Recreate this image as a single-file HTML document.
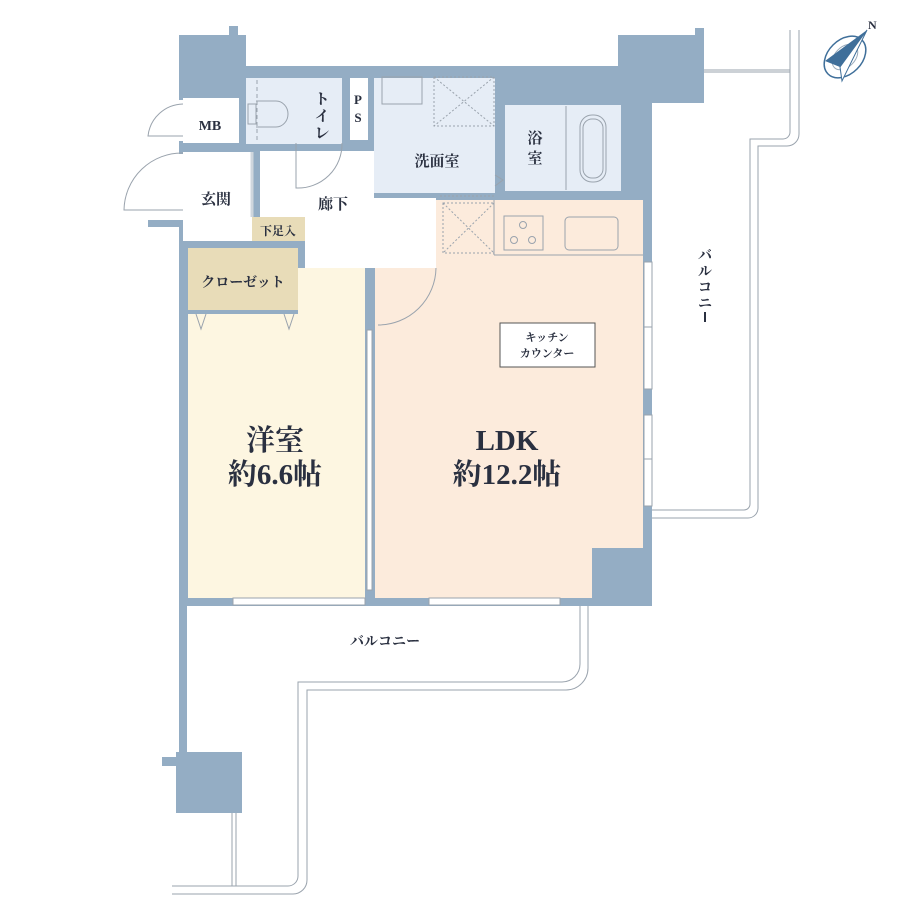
<!DOCTYPE html>
<html><head><meta charset="utf-8"><style>
html,body{margin:0;padding:0;background:#fff;}
svg{display:block;}
text{font-family:"Liberation Serif","Noto Serif CJK JP","Noto Serif CJK SC",serif;fill:#2a3040;font-weight:bold;}
</style></head><body>
<svg width="920" height="920" viewBox="0 0 920 920" xmlns="http://www.w3.org/2000/svg">
<g fill="#94adc4">
<rect x="179" y="35" width="67" height="40"/>
<rect x="229" y="26" width="9" height="12"/>
<rect x="179" y="66" width="470" height="12"/>
<rect x="618" y="35" width="86" height="68"/>
<rect x="695" y="28" width="9" height="10"/>
<rect x="179" y="66" width="473" height="540"/>
<rect x="592" y="548" width="60" height="58"/>
<rect x="179" y="600" width="8" height="155"/>
<rect x="176" y="752" width="66" height="61"/>
<rect x="162" y="757" width="16" height="9"/>
<rect x="148" y="220" width="36" height="7"/>
</g>
<rect x="179" y="100" width="4" height="41" fill="#fff"/>
<rect x="179" y="154" width="4" height="66" fill="#fff"/>
<g>
<rect x="246" y="78" width="96" height="66" fill="#e6edf6"/>
<rect x="350" y="78" width="18" height="62" fill="#fff"/>
<rect x="374" y="78" width="121" height="115" fill="#e6edf6"/>
<rect x="505" y="105" width="116" height="86" fill="#e6edf6"/>
<rect x="183" y="98" width="56" height="45" fill="#fff"/>
<rect x="183" y="152" width="69" height="89" fill="#fff"/>
<polygon points="260,151 374,151 374,198 436,198 436,268 305,268 305,241 260,241" fill="#fff"/>
<rect x="252" y="217" width="53" height="24" fill="#e8dcb8"/>
<rect x="188" y="248" width="110" height="62" fill="#e8dcb8"/>
<polygon points="188,314 298,314 298,268 365,268 365,598 188,598" fill="#fdf6e1"/>
<polygon points="436,200 643,200 643,548 592,548 592,598 375,598 375,268 436,268" fill="#fcebdc"/>
</g>
<g fill="none" stroke="#9aa3ad" stroke-width="1">
<line x1="252" y1="152" x2="252" y2="217" stroke="#cfd6dd" stroke-width="3"/>
<line x1="257" y1="80" x2="257" y2="142" stroke-dasharray="4,3"/>
<path d="M248 104 h8 v20 h-8z"/>
<path d="M256 101 h20 a12 13 0 0 1 0 26 h-20"/>
<rect x="434" y="77" width="60" height="49" stroke-dasharray="2,2"/>
<path d="M434 77 L494 126 M494 77 L434 126" stroke-dasharray="2,2"/>
<rect x="382" y="77" width="40" height="27"/>
<rect x="443" y="203" width="51" height="50" stroke-dasharray="2,2"/>
<path d="M443 203 L494 253 M494 203 L443 253" stroke-dasharray="2,2"/>
<line x1="494" y1="200" x2="494" y2="255"/>
<line x1="494" y1="255" x2="643" y2="255"/>
<rect x="504" y="216" width="39" height="34"/>
<circle cx="523" cy="225" r="3.5"/><circle cx="514" cy="240" r="3.5"/><circle cx="532" cy="240" r="3.5"/>
<rect x="565" y="217" width="53" height="33" rx="4"/>
<line x1="566" y1="106" x2="566" y2="190"/>
<rect x="580" y="115" width="26" height="67" rx="12"/>
<rect x="583" y="119" width="20" height="59" rx="9"/>
<path d="M183 104 A36 36 0 0 0 148 136 L183 136"/>
<path d="M183 153 A58 58 0 0 0 124 210 L183 210"/>
<path d="M342 143 A44 44 0 0 1 296 188 L296 143"/>
<path d="M436 268 A58 58 0 0 1 378 325"/>
<path d="M196 314 L201 329 L206 314 M284 314 L289 329 L294 314"/>
<path d="M495 175 L503 180 L495 186"/>
<line x1="440" y1="196" x2="494" y2="196" stroke-dasharray="2,2"/>
</g>
<g fill="#fff" stroke="#9aa3ad" stroke-width="1">
<rect x="233" y="598" width="132" height="7"/>
<rect x="429" y="598" width="131" height="7"/>
<rect x="644" y="262" width="8" height="65"/>
<rect x="644" y="327" width="8" height="62"/>
<rect x="644" y="415" width="8" height="44"/>
<rect x="644" y="459" width="8" height="47"/>
<rect x="367" y="330" width="5" height="260"/>
</g>
<g fill="none" stroke="#9aa3ad" stroke-width="1">
<path d="M580 606 V664 a18 18 0 0 1 -18 18 H298 V876 a10 10 0 0 1 -10 10 H172"/>
<path d="M588 606 V668 a22 22 0 0 1 -22 22 H307 V880 a14 14 0 0 1 -14 14 H172"/>
<path d="M232 813 V886 M236 813 V886"/>
<path d="M790 30 V132 a7 7 0 0 1 -7 7 H750 V504 a6 6 0 0 1 -6 6 H652"/>
<path d="M799 30 V134 a12 12 0 0 1 -12 12 H758 V508 a10 10 0 0 1 -10 10 H652"/>
<path d="M704 70 H790 M704 72 H790"/>
</g>
<rect x="500" y="323" width="95" height="44" fill="#fff" stroke="#555" stroke-width="1"/>
<g transform="translate(845,57)">
<ellipse cx="0" cy="0" rx="24" ry="17" transform="rotate(-45)" fill="none" stroke="#3f6f9a" stroke-width="1.5"/>
<ellipse cx="0" cy="0" rx="15" ry="10" transform="rotate(-45)" fill="none" stroke="#9ab" stroke-width="1"/>
<polygon points="-20,4 22,-27 -5,10" fill="#3f6f9a"/>
<polygon points="-5,10 22,-27 -3,24" fill="#fff" stroke="#3f6f9a" stroke-width="1"/>
<text x="23" y="-28" font-size="12" fill="#3f6f9a">N</text>
</g>
<g font-size="15">
<text x="210" y="130" text-anchor="middle" font-size="14">MB</text>
<text x="216" y="204" text-anchor="middle">玄関</text>
<text x="333" y="209" text-anchor="middle">廊下</text>
<text x="278" y="235" text-anchor="middle" font-size="12">下足入</text>
<text x="243" y="287" text-anchor="middle" font-size="14">クローゼット</text>
<text x="437" y="166" text-anchor="middle">洗面室</text>
<text x="322" y="104" text-anchor="middle">ト</text>
<text x="322" y="121" text-anchor="middle">イ</text>
<text x="322" y="138" text-anchor="middle">レ</text>
<text x="358" y="104" text-anchor="middle" font-size="13">P</text>
<text x="358" y="122" text-anchor="middle" font-size="13">S</text>
<text x="535" y="143" text-anchor="middle">浴</text>
<text x="535" y="163" text-anchor="middle">室</text>
<text x="547" y="341" text-anchor="middle" font-size="11">キッチン</text>
<text x="547" y="357" text-anchor="middle" font-size="11">カウンター</text>
<text x="275" y="450" text-anchor="middle" font-size="29">洋室</text>
<text x="275" y="484" text-anchor="middle" font-size="29">約6.6帖</text>
<text x="507" y="450" text-anchor="middle" font-size="29">LDK</text>
<text x="507" y="484" text-anchor="middle" font-size="29">約12.2帖</text>
<text x="385" y="646" text-anchor="middle" font-size="14">バルコニー</text>
<text x="705" y="260" text-anchor="middle" font-size="14">バ</text>
<text x="705" y="276" text-anchor="middle" font-size="14">ル</text>
<text x="705" y="292" text-anchor="middle" font-size="14">コ</text>
<text x="705" y="308" text-anchor="middle" font-size="14">ニ</text>
</g>
<line x1="705" y1="312" x2="705" y2="322" stroke="#2a3040" stroke-width="2"/>
</svg>
</body></html>
